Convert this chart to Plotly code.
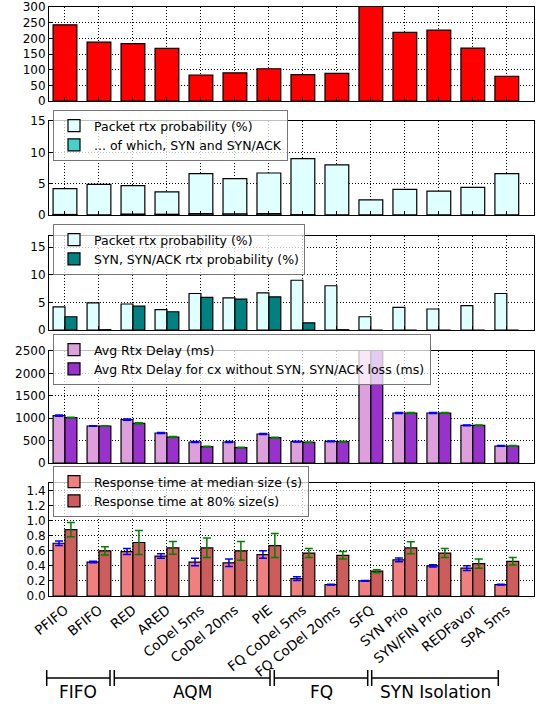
import plotly.graph_objects as go

categories = ["PFIFO", "BFIFO", "RED", "ARED", "CoDel 5ms", "CoDel 20ms", "PIE",
              "FQ CoDel 5ms", "FQ CoDel 20ms", "SFQ", "SYN Prio", "SYN/FIN Prio",
              "REDFavor", "SPA 5ms"]

rtt_ms = [243, 188, 183, 168, 83, 90, 103, 84, 88, 330, 219, 226, 169, 79]

pkt_rtx_pct = [4.2, 4.9, 4.7, 3.7, 6.6, 5.8, 6.7, 9.0, 8.0, 2.4, 4.1, 3.8, 4.4, 6.6]
syn_part_pct = [0.08, 0.0, 0.15, 0.12, 0.22, 0.2, 0.22, 0.05, 0.0, 0.0, 0.0, 0.0, 0.0, 0.0]
syn_rtx_pct = [2.4, 0.05, 4.3, 3.3, 5.9, 5.6, 6.0, 1.3, 0.05, 0.0, 0.0, 0.0, 0.0, 0.0]

avg_rtx_delay = [1057, 826, 967, 670, 469, 469, 647, 476, 484, 3200, 1116, 1116, 840, 380]
avg_rtx_delay_err = [12, 8, 14, 10, 10, 10, 12, 8, 8, 20, 10, 10, 8, 8]
avg_rtx_nosyn = [1012, 826, 885, 580, 365, 342, 565, 461, 476, 3100, 1116, 1116, 840, 380]
avg_rtx_nosyn_err = [10, 8, 12, 10, 8, 8, 10, 8, 8, 20, 10, 10, 8, 8]

resp_median = [0.70, 0.45, 0.59, 0.53, 0.45, 0.44, 0.55, 0.23, 0.15, 0.20, 0.48, 0.40, 0.37, 0.15]
resp_median_err = [0.03, 0.01, 0.04, 0.03, 0.05, 0.05, 0.05, 0.025, 0.005, 0.005, 0.025, 0.015, 0.03, 0.005]
resp_p80 = [0.88, 0.60, 0.71, 0.64, 0.64, 0.60, 0.67, 0.57, 0.54, 0.33, 0.64, 0.57, 0.43, 0.46]
resp_p80_err = [0.095, 0.055, 0.16, 0.085, 0.13, 0.125, 0.16, 0.06, 0.05, 0.02, 0.08, 0.06, 0.06, 0.05]

group_names = ["FIFO", "AQM", "FQ", "SYN Isolation"]
# bracket spans in pixels (drawn in figure space, like the original)
group_px = [(46.7, 110.0), (114.3, 270.0), (274.3, 367.7), (371.7, 498.3)]

W, H = 540, 704
L, R = 49, 6
FONT = "DejaVu Sans"
panel_px = [(7, 101), (121, 215), (236, 330), (351, 463), (483, 596)]
legend_top_px = [14, 110, 224, 334, 466]

idx = list(range(len(categories)))


def px_x(p):
    return (p - L) / (W - L - R)


def px_y(p):
    return 1 - p / H


fig = go.Figure()


def bar(k, y, name, color, offset, width, err=None, errcolor=None):
    kw = {}
    if err is not None:
        kw["error_y"] = dict(type="data", array=err, color=errcolor, thickness=1.5, width=4)
    fig.add_trace(go.Bar(
        x=idx, y=y, name=name, offset=offset, width=width,
        marker=dict(color=color, line=dict(color="black", width=1.2)),
        xaxis="x" if k == 1 else f"x{k}", yaxis="y" if k == 1 else f"y{k}",
        legend="legend" if k == 1 else f"legend{k}", **kw))


bar(1, rtt_ms, "RTT (ms)", "#FF0000", -0.35, 0.7)
bar(2, pkt_rtx_pct, "Packet rtx probability (%)", "#E0FFFF", -0.35, 0.7)
bar(2, syn_part_pct, "... of which, SYN and SYN/ACK", "#48D1CC", -0.35, 0.7)
bar(3, pkt_rtx_pct, "Packet rtx probability (%)", "#E0FFFF", -0.35, 0.35)
bar(3, syn_rtx_pct, "SYN, SYN/ACK rtx probability (%)", "#008080", 0.0, 0.35)
bar(4, avg_rtx_delay, "Avg Rtx Delay (ms)", "#DDA0DD", -0.35, 0.35, avg_rtx_delay_err, "blue")
bar(4, avg_rtx_nosyn, "Avg Rtx Delay for cx without SYN, SYN/ACK loss (ms)", "#9932CC", 0.0, 0.35,
    avg_rtx_nosyn_err, "green")
bar(5, resp_median, "Response time at median size (s)", "#F08080", -0.35, 0.35, resp_median_err, "blue")
bar(5, resp_p80, "Response time at 80% size(s)", "#CD5C5C", 0.0, 0.35, resp_p80_err, "green")

y_ranges = [[0, 300], [0, 15], [0, 17], [0, 2500], [0, 1.5]]
y_ticks = [list(range(0, 301, 50)), [0, 5, 10, 15], [0, 5, 10, 15],
           list(range(0, 2501, 500)), [0, 0.2, 0.4, 0.6, 0.8, 1.0, 1.2, 1.4]]

grid = dict(showgrid=True, gridcolor="black", griddash="1px,2px", gridwidth=1,
            showline=True, mirror=True, linecolor="black", linewidth=1, automargin=False,
            ticks="inside", ticklen=4, tickcolor="black", zeroline=False)

layout = dict(
    width=W, height=H, margin=dict(l=L, r=R, t=0, b=0),
    plot_bgcolor="white", paper_bgcolor="white", barmode="overlay",
    font=dict(family=FONT, size=12, color="black"),
)
for k in range(1, 6):
    top, bottom = panel_px[k - 1]
    xa = dict(grid, domain=[0, 1], range=[-0.47, 13.8], tickvals=idx, ticktext=categories,
              showticklabels=(k == 5), tickangle=-39, tickfont=dict(size=13.5),
              anchor="y" if k == 1 else f"y{k}")
    if k > 1:
        xa["matches"] = "x"
    ya = dict(grid, domain=[px_y(bottom), px_y(top)], range=y_ranges[k - 1],
              tickvals=y_ticks[k - 1], anchor="x" if k == 1 else f"x{k}")
    if k == 5:
        ya["tickformat"] = ".1f"
    layout["xaxis" if k == 1 else f"xaxis{k}"] = xa
    layout["yaxis" if k == 1 else f"yaxis{k}"] = ya
    layout["legend" if k == 1 else f"legend{k}"] = dict(
        x=px_x(53), y=px_y(legend_top_px[k - 1]), xanchor="left", yanchor="top",
        xref="paper", yref="paper", traceorder="normal",
        bgcolor="rgba(255,255,255,0.75)", bordercolor="#777", borderwidth=1,
        font=dict(size=12.5), itemwidth=30, tracegroupgap=0)

fig.update_layout(**layout)

# group brackets under the category labels
y_line = px_y(678)
for name, (a, b) in zip(group_names, group_px):
    xa, xb = px_x(a), px_x(b)
    fig.add_shape(type="line", xref="paper", yref="paper", x0=xa, x1=xb, y0=y_line, y1=y_line,
                  line=dict(color="black", width=1.5))
    for xv in (xa, xb):
        fig.add_shape(type="line", xref="paper", yref="paper", x0=xv, x1=xv,
                      y0=px_y(670), y1=px_y(686), line=dict(color="black", width=1.5))
    fig.add_annotation(x=(xa + xb) / 2, y=px_y(692), xref="paper", yref="paper",
                       text=name, showarrow=False, font=dict(size=17),
                       xanchor="center", yanchor="middle")

fig.write_html("out.html", post_script="document.body.style.margin='0px';",
               config={"displayModeBar": False})
